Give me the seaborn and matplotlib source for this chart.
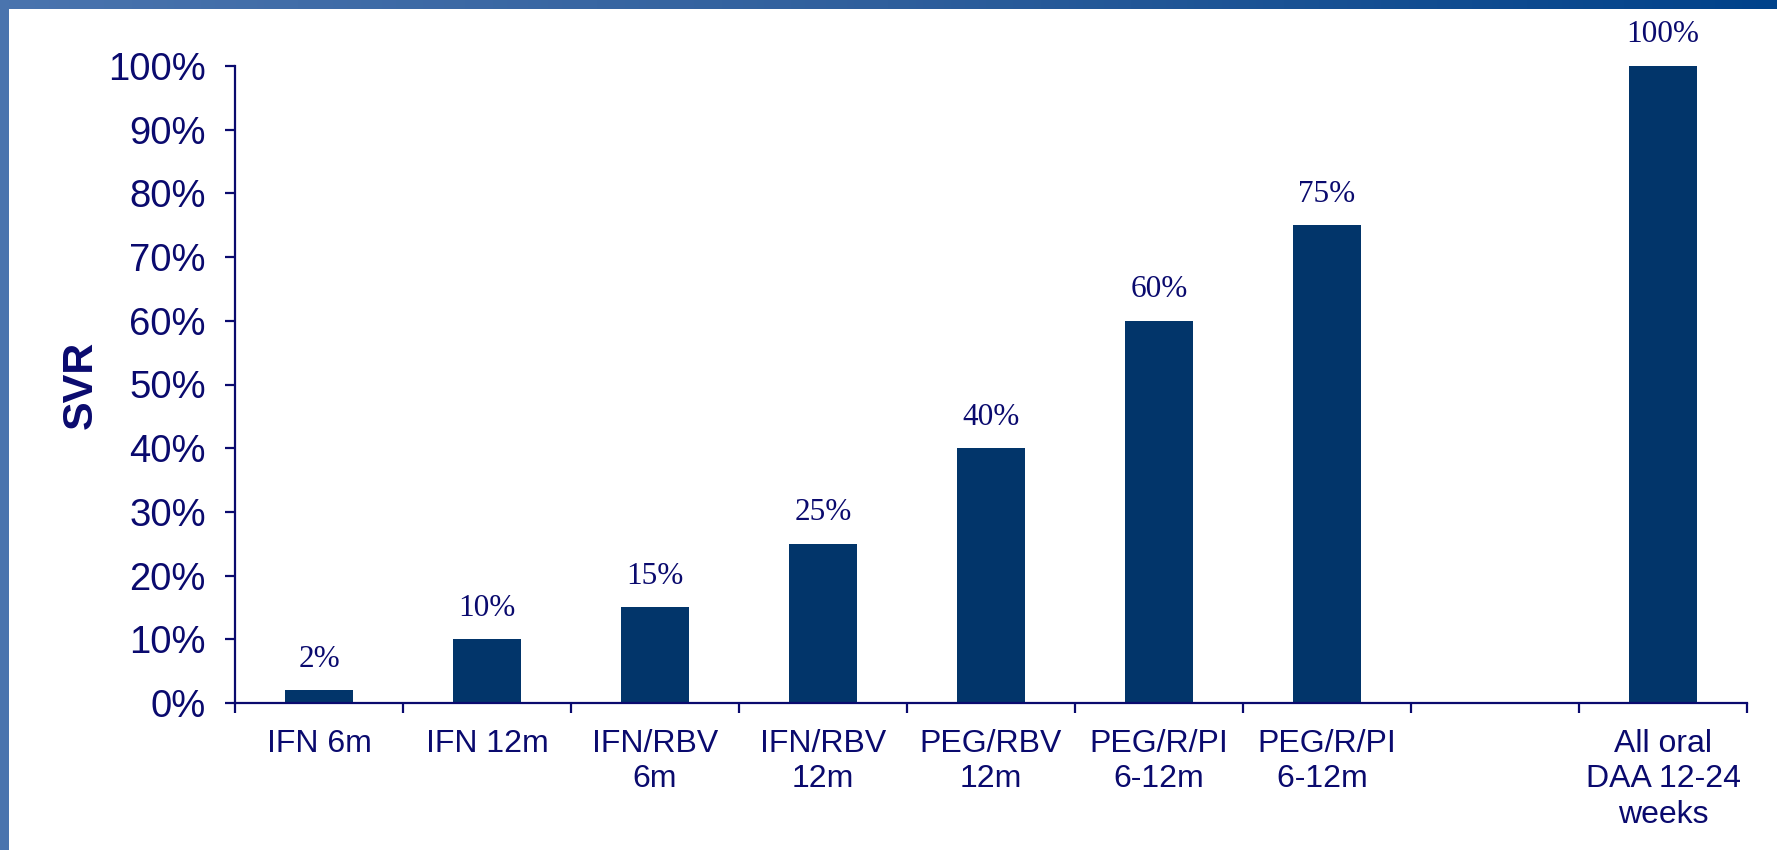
import numpy as np
import pandas as pd
import matplotlib
matplotlib.use("Agg")
import matplotlib.pyplot as plt
from matplotlib.patches import Rectangle
from matplotlib.ticker import FixedLocator, FuncFormatter
from matplotlib.colors import LinearSegmentedColormap
import seaborn as sns

# Treatment regimens and sustained virologic response rates
regimens = ["IFN 6m", "IFN 12m", "IFN/RBV\n6m", "IFN/RBV\n12m", "PEG/RBV\n12m",
            "PEG/R/PI\n6-12m", "PEG/R/PI\n6-12m ", "All oral\nDAA 12-24\nweeks"]
svr = [0.02, 0.10, 0.15, 0.25, 0.40, 0.60, 0.75, 1.00]
value_labels = ["2%", "10%", "15%", "25%", "40%", "60%", "75%", "100%"]
# slot order along the axis, with one empty slot before the all-oral regimen
slot_order = regimens[:7] + [" "] + regimens[7:]
y_ticks = [0.0, 0.1, 0.2, 0.3, 0.4, 0.5, 0.6, 0.7, 0.8, 0.9, 1.0]

navy = "#0a0a6e"
bar_color = "#02356a"

sns.set_theme(style="white")
plt.rcParams["font.family"] = ["Liberation Sans", "DejaVu Sans"]

W, H = 1777, 850
fig = plt.figure(figsize=(W / 100, H / 100), dpi=100)
fig.patch.set_facecolor("white")

ax = fig.add_axes([235 / W, 1 - 703 / H, (1747 - 235) / W, (703 - 66) / H])
df = pd.DataFrame({"regimen": regimens, "svr": svr})
sns.barplot(data=df, x="regimen", y="svr", order=slot_order, color=bar_color,
            saturation=1, width=0.4, ax=ax, errorbar=None)
for p in ax.patches:
    p.set_edgecolor("none")

ax.set_ylim(0, 1.0)
ax.set_xlim(-0.5, len(slot_order) - 0.5)

# value labels above each bar
for reg, val, lab in zip(regimens, svr, value_labels):
    xi = slot_order.index(reg)
    ax.annotate(lab, (xi, val), xytext=(0, 12), textcoords="offset points",
                ha="center", va="bottom", fontsize=22.5,
                fontfamily="Liberation Serif", color=navy)

# axes styling
for side in ["top", "right"]:
    ax.spines[side].set_visible(False)
for side in ["left", "bottom"]:
    ax.spines[side].set_color(navy)
    ax.spines[side].set_linewidth(1.6)

ax.yaxis.set_major_locator(FixedLocator(y_ticks))
ax.yaxis.set_major_formatter(FuncFormatter(lambda v, _: f"{v * 100:.0f}%"))
ax.tick_params(axis="y", which="major", direction="out", length=7, width=1.6,
               color=navy, labelcolor=navy, labelsize=27.5, pad=14, left=True)

ax.set_xticks(range(len(slot_order)))
ax.set_xticklabels(slot_order, linespacing=1.22)
ax.tick_params(axis="x", which="major", length=0, labelsize=23, labelcolor=navy, pad=19)
ax.xaxis.set_minor_locator(FixedLocator(np.arange(-0.5, len(slot_order), 1.0)))
ax.tick_params(axis="x", which="minor", direction="out", length=7, width=1.6,
               color=navy, bottom=True)

ax.set_xlabel("")
ax.set_ylabel("SVR", fontsize=31, fontweight="bold", color=navy)
ax.yaxis.set_label_coords(-0.0886, 0.5)

# slide frame: gradient band on top, solid band on the left
band = fig.add_axes([0, 1 - 9 / H, 1, 9 / H])
grad = np.linspace(0, 1, 256).reshape(1, -1)
cmap = LinearSegmentedColormap.from_list("frame", ["#4a74ae", "#2f5f9c", "#00428a"])
band.imshow(grad, aspect="auto", cmap=cmap, extent=[0, 1, 0, 1])
band.set_axis_off()
fig.add_artist(Rectangle((0, 0), 9 / W, 1, transform=fig.transFigure,
                         facecolor="#4a74ae", edgecolor="none", zorder=10))

fig.savefig("out.png", dpi=100, facecolor="white")
